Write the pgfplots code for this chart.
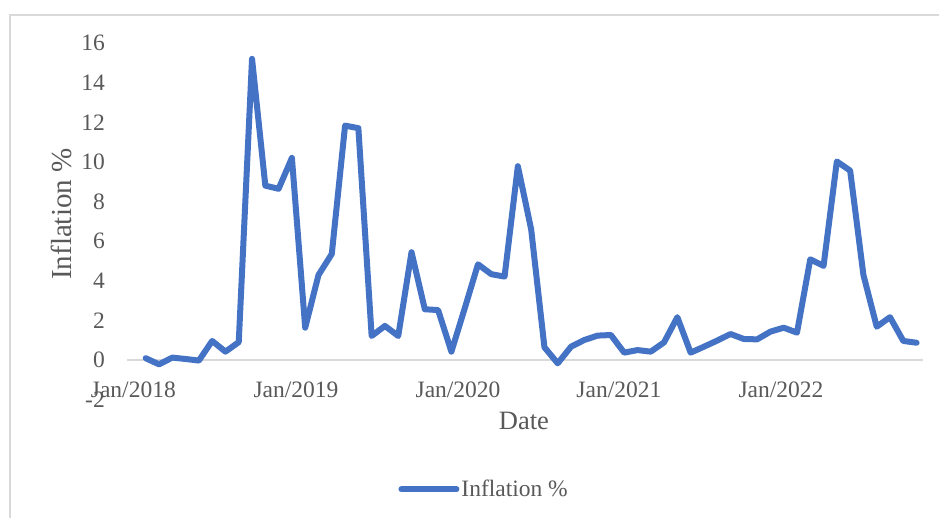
\documentclass[border=0pt]{standalone}
\usepackage{pgfplots}
\pgfplotsset{compat=1.18}
\usepackage{fontspec}
\setmainfont{Liberation Serif}
\definecolor{linecol}{HTML}{4472C4}
\definecolor{txt}{HTML}{595959}
\definecolor{gridc}{HTML}{D9D9D9}
\begin{document}
\begin{tikzpicture}
\useasboundingbox (0,0) rectangle (939bp,518bp);
\fill[white] (0,0) rectangle (939bp,518bp);
\draw[gridc, line width=1.5bp] (10bp,0) -- (10bp,503bp) -- (939bp,503bp);
\begin{axis}[
  at={(126.7bp,118.4bp)}, anchor=south west,
  scale only axis, width=796bp, height=356.6bp,
  xmin=-1.43, xmax=58.46, ymin=-2, ymax=16,
  ytick={-2,0,2,4,6,8,10,12,14,16},
  xtick={-0.93,11.31,23.5,35.6,47.8},
  xticklabels={Jan/2018,Jan/2019,Jan/2020,Jan/2021,Jan/2022},
  axis line style={draw=none},
  major tick style={draw=none},
  extra y ticks={0}, extra y tick labels={},
  extra y tick style={grid=major, major grid style={gridc, line width=1.5bp}},
  /pgf/number format/assume math mode=true,
  tick label style={font=\fontsize{23.5bp}{28bp}\selectfont, text=txt},
  yticklabel style={anchor=east, inner sep=0pt, xshift=-21.7bp},
  xticklabel style={anchor=base, inner sep=0pt, yshift=2.3bp},
  xlabel={Date}, ylabel={Inflation \%},
  xlabel style={font=\fontsize{26.5bp}{30bp}\selectfont, text=txt, at={(axis description cs:0.499,-0.0833)}, anchor=base, inner sep=0pt},
  ylabel style={font=\fontsize{29bp}{32bp}\selectfont, text=txt, at={(axis description cs:-0.0825,0.52)}, anchor=center, rotate=0, inner sep=0pt},
  legend style={at={(axis description cs:0.449,-0.2515)}, anchor=center, draw=none, fill=none,
    font=\fontsize{23.5bp}{28bp}\selectfont, text=txt, inner sep=0pt},
  legend cell align=left,
  legend image code/.code={\draw[linecol, line width=6bp, line cap=round] (0bp,0bp) -- (55bp,0bp);},
  clip=false,
]
\addplot[linecol, line width=6bp, line join=round, line cap=round] coordinates {
(0,0.09) (1,-0.22) (2,0.12) (3,0.05) (4,-0.03) (5,0.96) (6,0.42) (7,0.9)
(8,15.2) (9,8.8) (10,8.64) (11,10.2) (12,1.63) (13,4.29) (14,5.35) (15,11.83)
(16,11.7) (17,1.21) (18,1.72) (19,1.21) (20,5.44) (21,2.56) (22,2.52) (23,0.42)
(24,2.6) (25,4.83) (26,4.33) (27,4.21) (28,9.78) (29,6.6) (30,0.64) (31,-0.17)
(32,0.67) (33,1.01) (34,1.23) (35,1.26) (36,0.37) (37,0.5) (38,0.42) (39,0.89)
(40,2.16) (41,0.37) (42,0.67) (43,0.98) (44,1.31) (45,1.06) (46,1.04) (47,1.43)
(48,1.63) (49,1.38) (50,5.08) (51,4.75) (52,10.02) (53,9.56) (54,4.29) (55,1.68)
(56,2.16) (57,0.96) (58,0.87)
};
\addlegendentry{Inflation \%}
\end{axis}
\end{tikzpicture}
\end{document}
